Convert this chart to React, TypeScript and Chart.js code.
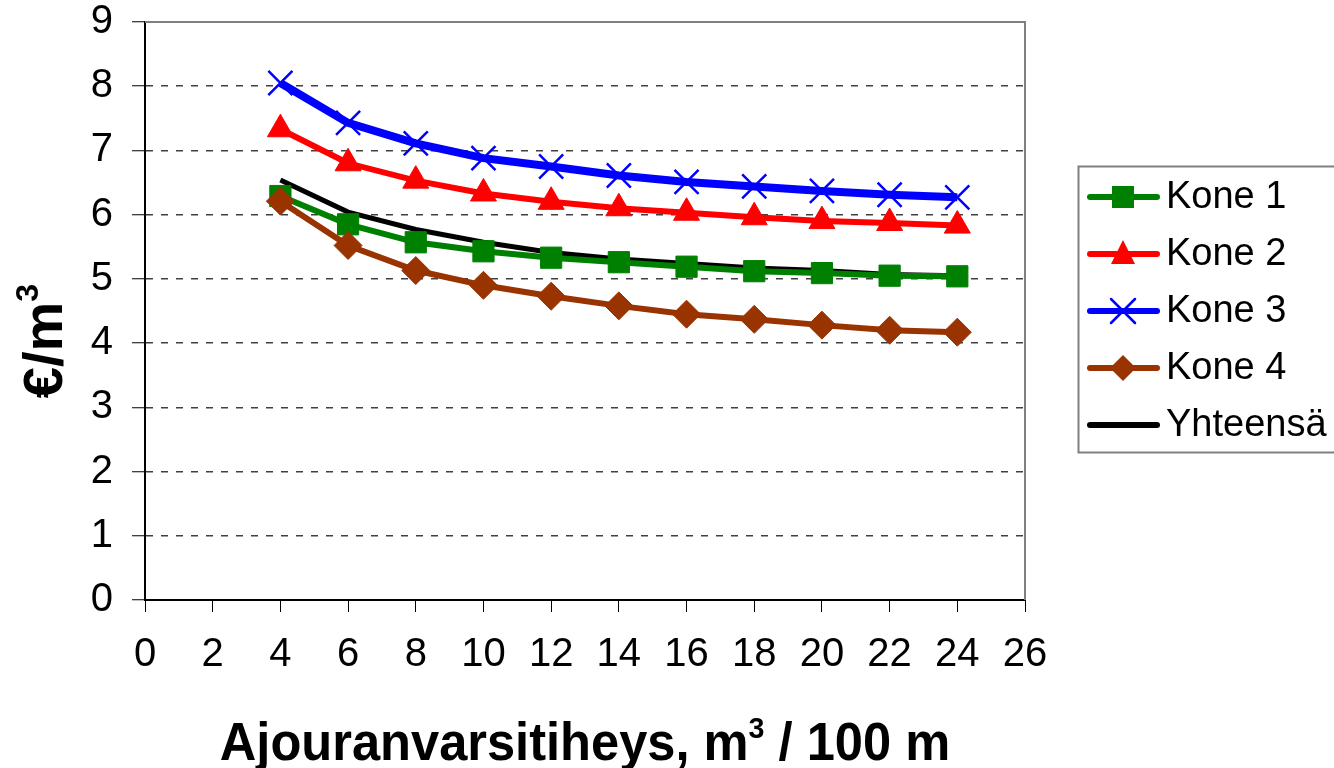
import React, { useEffect, useRef } from 'react';
import { Chart, registerables } from 'chart.js';

Chart.register(...registerables);

const xValues = [4, 6, 8, 10, 12, 14, 16, 18, 20, 22, 24];
const kone1 = [6.29, 5.85, 5.57, 5.43, 5.33, 5.26, 5.19, 5.12, 5.09, 5.05, 5.04];
const kone2 = [7.33, 6.80, 6.53, 6.33, 6.20, 6.10, 6.03, 5.96, 5.90, 5.87, 5.83];
const kone3 = [8.05, 7.43, 7.11, 6.88, 6.75, 6.61, 6.51, 6.44, 6.37, 6.31, 6.27];
const kone4 = [6.21, 5.52, 5.13, 4.90, 4.73, 4.58, 4.45, 4.37, 4.28, 4.20, 4.17];
const yhteensa = [6.54, 6.04, 5.77, 5.57, 5.41, 5.31, 5.24, 5.17, 5.13, 5.07, 5.05];

const seriesNames = ['Kone 1', 'Kone 2', 'Kone 3', 'Kone 4', 'Yhteensä'];
const seriesColors = ['#008000', '#FF0000', '#0000FF', '#993300', '#000000'];
const seriesMarkers = ['rect', 'triangle', 'crossRot', 'rectRot', 'none'];
const seriesValues = [kone1, kone2, kone3, kone4, yhteensa];
const lineWidths = [6, 6, 8, 6, 5];
const markerRadius = [15, 15, 17, 14, 0];

const xMin = 0, xMax = 26, xStep = 2;
const yMin = 0, yMax = 9, yStep = 1;

const xTitleMain = 'Ajouranvarsitiheys, m';
const xTitleSup = '3';
const xTitleEnd = ' / 100 m';
const yTitleMain = '€/m';
const yTitleSup = '3';

const SANS = '"Liberation Sans", Arial, sans-serif';

function drawLegendMarker(ctx: CanvasRenderingContext2D, style: string, x: number, y: number, color: string) {
  ctx.save();
  ctx.fillStyle = color;
  ctx.strokeStyle = color;
  if (style === 'rect') {
    ctx.fillRect(x - 11, y - 11, 22, 22);
  } else if (style === 'triangle') {
    ctx.beginPath();
    ctx.moveTo(x, y - 14);
    ctx.lineTo(x + 12, y + 10);
    ctx.lineTo(x - 12, y + 10);
    ctx.closePath();
    ctx.fill();
  } else if (style === 'crossRot') {
    ctx.lineWidth = 2.5;
    ctx.beginPath();
    ctx.moveTo(x - 12, y - 12);
    ctx.lineTo(x + 12, y + 12);
    ctx.moveTo(x + 12, y - 12);
    ctx.lineTo(x - 12, y + 12);
    ctx.stroke();
  } else if (style === 'rectRot') {
    ctx.beginPath();
    ctx.moveTo(x, y - 13);
    ctx.lineTo(x + 13, y);
    ctx.lineTo(x, y + 13);
    ctx.lineTo(x - 13, y);
    ctx.closePath();
    ctx.fill();
  }
  ctx.restore();
}

const decorPlugin = {
  id: 'decor',
  beforeDatasetsDraw(chart: any) {
    const { ctx, chartArea } = chart;
    ctx.save();
    ctx.strokeStyle = '#808080';
    ctx.lineWidth = 2;
    ctx.beginPath();
    ctx.moveTo(chartArea.left, chartArea.top);
    ctx.lineTo(chartArea.right, chartArea.top);
    ctx.lineTo(chartArea.right, chartArea.bottom);
    ctx.stroke();
    ctx.restore();
  },
  afterDraw(chart: any) {
    const { ctx, chartArea } = chart;
    ctx.save();
    // legend box
    const lx = 1078.5, ly = 166.5, lh = 286;
    ctx.fillStyle = '#ffffff';
    ctx.fillRect(lx, ly, 300, lh);
    ctx.strokeStyle = '#808080';
    ctx.lineWidth = 2;
    ctx.strokeRect(lx, ly, 300, lh);
    const rowY = [197, 254, 311, 368, 425];
    for (let i = 0; i < seriesNames.length; i++) {
      const y = rowY[i];
      ctx.strokeStyle = seriesColors[i];
      ctx.lineWidth = 6;
      ctx.lineCap = 'round';
      ctx.beginPath();
      ctx.moveTo(1090, y);
      ctx.lineTo(1157, y);
      ctx.stroke();
      drawLegendMarker(ctx, seriesMarkers[i], 1123, y, seriesColors[i]);
      ctx.fillStyle = '#000';
      ctx.font = `38px ${SANS}`;
      ctx.textBaseline = 'middle';
      ctx.textAlign = 'left';
      ctx.fillText(seriesNames[i], 1166, y + 1);
    }

    // x title (slightly condensed)
    const cx = (chartArea.left + chartArea.right) / 2;
    const squeeze = 0.955;
    const bigX = `bold 53px ${SANS}`;
    const supX = `bold 30px ${SANS}`;
    ctx.textBaseline = 'alphabetic';
    ctx.textAlign = 'left';
    ctx.font = bigX;
    const w1 = ctx.measureText(xTitleMain).width;
    const w3 = ctx.measureText(xTitleEnd).width;
    ctx.font = supX;
    const w2 = ctx.measureText(xTitleSup).width;
    const total = (w1 + w2 + w3) * squeeze;
    ctx.save();
    ctx.translate(cx - total / 2, 760);
    ctx.scale(squeeze, 1);
    let sx = 0;
    ctx.fillStyle = '#000';
    ctx.font = bigX;
    ctx.fillText(xTitleMain, sx, 0);
    sx += w1;
    ctx.font = supX;
    ctx.fillText(xTitleSup, sx, -22);
    sx += w2;
    ctx.font = bigX;
    ctx.fillText(xTitleEnd, sx, 0);
    ctx.restore();

    // y title
    ctx.translate(62, 341);
    ctx.rotate(-Math.PI / 2);
    const bigY = `bold 56px ${SANS}`;
    const supY = `bold 32px ${SANS}`;
    ctx.font = bigY;
    const v1 = ctx.measureText(yTitleMain).width;
    ctx.font = supY;
    const v2 = ctx.measureText(yTitleSup).width;
    let tx = -(v1 + v2) / 2;
    ctx.fillStyle = '#000';
    ctx.font = bigY;
    ctx.fillText(yTitleMain, tx, 0);
    tx += v1;
    ctx.font = supY;
    ctx.fillText(yTitleSup, tx, -24);
    ctx.restore();
  },
};

export default function App() {
  const ref = useRef<HTMLCanvasElement | null>(null);
  useEffect(() => {
    if (!ref.current) return;
    const datasets = seriesNames.map((name, i) => ({
      label: name,
      data: xValues.map((x, j) => ({ x, y: seriesValues[i][j] })),
      borderColor: seriesColors[i],
      backgroundColor: seriesColors[i],
      borderWidth: lineWidths[i],
      pointStyle: seriesMarkers[i] === 'none' ? false : seriesMarkers[i],
      pointRadius: markerRadius[i],
      pointBorderWidth: seriesMarkers[i] === 'crossRot' ? 2.5 : 1,
      pointBorderColor: seriesColors[i],
      pointBackgroundColor: seriesColors[i],
      tension: 0,
      fill: false,
      order: i === 3 ? 0 : i + 1,
    }));
    const chart = new Chart(ref.current, {
      type: 'line',
      data: { datasets } as any,
      plugins: [decorPlugin],
      options: {
        responsive: false,
        animation: false,
        layout: { padding: { left: 0, top: 22, right: 309, bottom: 0 } },
        plugins: { legend: { display: false }, tooltip: { enabled: false } },
        scales: {
          x: {
            type: 'linear',
            min: xMin,
            max: xMax,
            ticks: {
              stepSize: xStep,
              autoSkip: false,
              maxRotation: 0,
              color: '#000',
              padding: 19,
              font: { family: SANS, size: 40 },
            },
            grid: { drawOnChartArea: false, tickLength: 12, tickColor: '#000', tickWidth: 1 },
            border: { color: '#000', width: 2 },
            afterFit: (s: any) => { s.height = 168; s.paddingLeft = 0; s.paddingRight = 0; },
          },
          y: {
            type: 'linear',
            min: yMin,
            max: yMax,
            ticks: {
              stepSize: yStep,
              color: '#000',
              padding: 19,
              font: { family: SANS, size: 40 },
            },
            grid: {
              color: (c: any) => (c.tick && (c.tick.value === yMin || c.tick.value === yMax) ? 'rgba(0,0,0,0)' : '#404040'),
              lineWidth: 1.5,
              tickLength: 13,
              tickColor: '#000',
              tickWidth: 1,
            },
            border: { color: '#000', width: 2, dash: [7, 8] },
            afterFit: (s: any) => { s.width = 145; s.paddingTop = 0; s.paddingBottom = 0; },
          },
        },
      } as any,
    });
    return () => chart.destroy();
  }, []);
  return (
    <div style={{ position: 'fixed', left: 0, top: 0, width: 1334, height: 768, background: '#fff' }}>
      <canvas ref={ref} width={1334} height={768} style={{ width: 1334, height: 768, display: 'block' }} />
    </div>
  );
}
